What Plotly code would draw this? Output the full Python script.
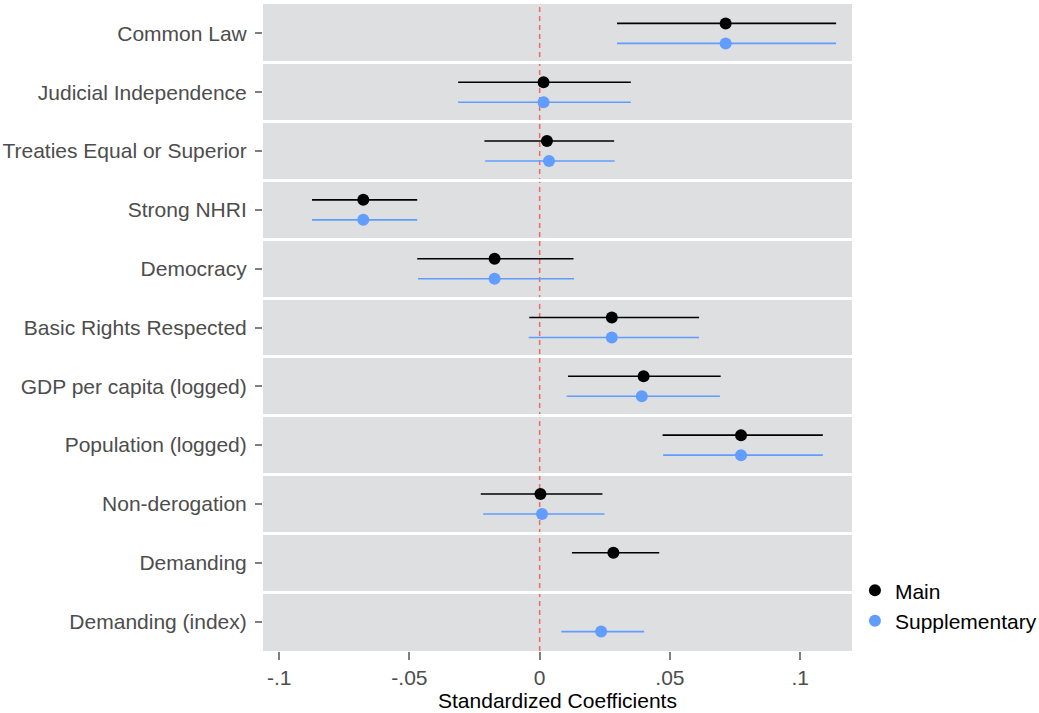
import plotly.graph_objects as go

categories = [
    "Common Law", "Judicial Independence", "Treaties Equal or Superior",
    "Strong NHRI", "Democracy", "Basic Rights Respected",
    "GDP per capita (logged)", "Population (logged)", "Non-derogation",
    "Demanding", "Demanding (index)",
]

main_est = [0.0714, 0.0015, 0.0028, -0.0677, -0.0173, 0.0277, 0.0399, 0.0773, 0.0003, 0.0283, None]
main_lo = [0.0297, -0.0313, -0.0212, -0.0874, -0.0470, -0.0040, 0.0109, 0.0472, -0.0226, 0.0124, None]
main_hi = [0.1138, 0.0350, 0.0286, -0.0470, 0.0130, 0.0612, 0.0695, 0.1087, 0.0241, 0.0459, None]

supp_est = [0.0714, 0.0015, 0.0036, -0.0677, -0.0173, 0.0277, 0.0392, 0.0773, 0.0009, None, 0.0236]
supp_lo = [0.0297, -0.0313, -0.0209, -0.0874, -0.0467, -0.0042, 0.0104, 0.0474, -0.0217, None, 0.0083]
supp_hi = [0.1138, 0.0350, 0.0288, -0.0470, 0.0132, 0.0612, 0.0692, 0.1087, 0.0249, None, 0.0401]

x_ticks = [-0.1, -0.05, 0, 0.05, 0.1]
x_ticklabels = ["-.1", "-.05", "0", ".05", ".1"]

FONT = "Liberation Sans, Arial, Helvetica, sans-serif"
FS = 21


def series(est, lo, hi, offset):
    xs, ys, plus, minus = [], [], [], []
    for i, (e, l, h) in enumerate(zip(est, lo, hi)):
        if e is None:
            continue
        xs.append(e)
        ys.append(i + offset)
        plus.append(h - e)
        minus.append(e - l)
    return xs, ys, plus, minus


fig = go.Figure()
for name, est, lo, hi, off, col in [
    ("Main", main_est, main_lo, main_hi, -0.17, "#000000"),
    ("Supplementary", supp_est, supp_lo, supp_hi, 0.17, "#619CFF"),
]:
    xs, ys, plus, minus = series(est, lo, hi, off)
    fig.add_trace(go.Scatter(
        x=xs, y=ys, mode="markers", name=name,
        marker=dict(color=col, size=12),
        error_x=dict(type="data", symmetric=False, array=plus, arrayminus=minus,
                     color=col, thickness=1.6, width=0),
    ))

fig.add_vline(x=0, line=dict(color="#EE6A62", width=1.5, dash="5px,4px"), layer="below")

fig.update_layout(
    width=1039, height=713,
    margin=dict(l=263, r=187, t=4, b=62, autoexpand=False),
    paper_bgcolor="white",
    plot_bgcolor="#DEDFE0",
    font=dict(family=FONT, size=FS, color="#4D4D4D"),
    showlegend=True,
    legend=dict(x=1.005, y=0.07, xanchor="left", yanchor="middle",
                font=dict(size=FS, color="#000000"), bgcolor="rgba(0,0,0,0)",
                itemsizing="constant", tracegroupgap=0),
    xaxis=dict(
        range=[-0.1062, 0.1199],
        tickvals=x_ticks, ticktext=x_ticklabels,
        showgrid=False, zeroline=False, showline=False,
        ticks="outside", ticklen=8, tickwidth=1.5, tickcolor="#7F7F7F",
        tickfont=dict(size=FS, color="#4D4D4D"),
        title=dict(text="Standardized Coefficients", font=dict(size=FS, color="#000000"), standoff=2),
    ),
    yaxis=dict(
        range=[10.5, -0.5],
        tickvals=list(range(len(categories))), ticktext=categories,
        showgrid=False, zeroline=False, showline=False,
        ticks="outside", ticklen=7, tickwidth=1.5, tickcolor="#7F7F7F",
        ticklabelstandoff=4,
        tickfont=dict(size=FS, color="#4D4D4D"),
        minor=dict(tick0=0.5, dtick=1, showgrid=True, gridcolor="white", gridwidth=3, ticks=""),
    ),
)

fig.write_html("out.html")
